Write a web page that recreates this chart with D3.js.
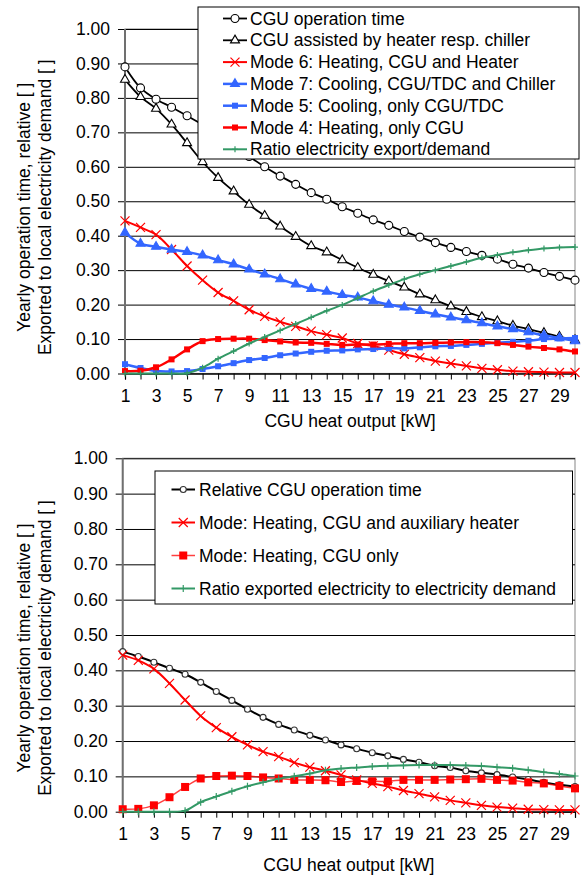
<!DOCTYPE html>
<html>
<head>
<meta charset="utf-8">
<script src="https://cdn.jsdelivr.net/npm/d3@7"></script>
<style>
html,body{margin:0;padding:0;background:#fff;}
svg{display:block;font-family:"Liberation Sans",Arial,sans-serif;}
</style>
</head>
<body>
<svg id="chart" width="581" height="876"></svg>
<script>
// ---------- DATA ----------
const heatOutput = d3.range(1, 31);             // CGU heat output [kW]
const xTickLabels = [1,3,5,7,9,11,13,15,17,19,21,23,25,27,29];
const yTickValues = [0,0.1,0.2,0.3,0.4,0.5,0.6,0.7,0.8,0.9,1.0];

// Top chart series
const cguOperationTime = [0.890,0.829,0.796,0.773,0.748,0.722,0.692,0.661,0.630,0.600,0.573,0.549,0.525,0.506,0.484,0.465,0.446,0.430,0.412,0.396,0.380,0.366,0.354,0.343,0.332,0.317,0.306,0.293,0.282,0.271];
const cguAssisted = [0.853,0.803,0.769,0.723,0.669,0.614,0.568,0.529,0.490,0.458,0.427,0.397,0.370,0.352,0.329,0.307,0.287,0.268,0.250,0.230,0.213,0.195,0.179,0.164,0.152,0.139,0.129,0.118,0.107,0.097];
const mode6 = [0.443,0.424,0.403,0.360,0.312,0.271,0.235,0.211,0.185,0.166,0.150,0.137,0.123,0.113,0.103,0.087,0.080,0.068,0.056,0.046,0.036,0.029,0.022,0.015,0.011,0.007,0.005,0.004,0.003,0.003];
const mode7 = [0.409,0.377,0.368,0.360,0.353,0.343,0.329,0.317,0.302,0.288,0.274,0.259,0.246,0.238,0.228,0.221,0.210,0.200,0.192,0.182,0.172,0.163,0.155,0.146,0.137,0.129,0.120,0.111,0.103,0.094];
const mode5 = [0.027,0.016,0.007,0.006,0.007,0.013,0.021,0.030,0.039,0.045,0.053,0.058,0.063,0.066,0.067,0.070,0.071,0.073,0.073,0.076,0.079,0.080,0.083,0.086,0.089,0.092,0.095,0.100,0.102,0.103];
const mode4 = [0.007,0.008,0.018,0.041,0.070,0.094,0.100,0.101,0.101,0.097,0.093,0.090,0.089,0.086,0.083,0.084,0.084,0.086,0.088,0.088,0.089,0.090,0.091,0.091,0.088,0.083,0.078,0.074,0.070,0.064];
const ratioExportDemand = [0,0,0,0,0.001,0.017,0.043,0.065,0.087,0.106,0.125,0.144,0.163,0.182,0.199,0.219,0.239,0.257,0.274,0.288,0.300,0.312,0.324,0.336,0.344,0.352,0.358,0.363,0.366,0.367];

// Bottom chart series
const relCguOperationTime = [0.453,0.439,0.423,0.406,0.389,0.366,0.340,0.315,0.290,0.267,0.247,0.231,0.216,0.203,0.189,0.178,0.167,0.158,0.148,0.140,0.130,0.125,0.116,0.110,0.105,0.098,0.091,0.083,0.076,0.071];
const modeHeatingAux = [0.443,0.428,0.404,0.363,0.316,0.271,0.238,0.212,0.189,0.170,0.156,0.139,0.126,0.116,0.104,0.090,0.080,0.071,0.060,0.051,0.042,0.032,0.025,0.018,0.013,0.010,0.007,0.006,0.005,0.005];
const modeHeatingOnly = [0.007,0.008,0.018,0.041,0.070,0.094,0.101,0.102,0.101,0.097,0.094,0.090,0.090,0.089,0.084,0.087,0.086,0.086,0.090,0.090,0.090,0.091,0.092,0.093,0.090,0.088,0.083,0.080,0.073,0.066];
const ratioExportedToDemand = [0,0,0,0,0.003,0.027,0.043,0.058,0.072,0.083,0.093,0.100,0.108,0.117,0.122,0.125,0.128,0.130,0.131,0.132,0.132,0.132,0.131,0.129,0.126,0.123,0.118,0.112,0.107,0.101];

// ---------- STYLES ----------
const RED = "#ff0000", BLUE = "#3366ff", GREEN = "#339966", BLACK = "#000000";
const FS = 17.5;

const topSeries = [
  {name:"CGU operation time", values:cguOperationTime, color:BLACK, width:1.8, marker:"circle", ms:4, fill:"#fff"},
  {name:"CGU assisted by heater resp. chiller", values:cguAssisted, color:BLACK, width:1.8, marker:"triangle", ms:9, fill:"#fff"},
  {name:"Mode 6: Heating, CGU and Heater", values:mode6, color:RED, width:2, marker:"x", ms:9},
  {name:"Mode 7: Cooling, CGU/TDC and Chiller", values:mode7, color:BLUE, width:2.5, marker:"triangle", ms:9, fill:BLUE},
  {name:"Mode 5: Cooling, only CGU/TDC", values:mode5, color:BLUE, width:2.5, marker:"square", ms:6, fill:BLUE},
  {name:"Mode 4: Heating, only CGU", values:mode4, color:RED, width:2.5, marker:"square", ms:6, fill:RED},
  {name:"Ratio electricity export/demand", values:ratioExportDemand, color:GREEN, width:2, marker:"plus", ms:6}
];
const bottomSeries = [
  {name:"Relative CGU operation time", values:relCguOperationTime, color:BLACK, width:2, marker:"circle", ms:3, fill:"#fff", mstroke:"#333"},
  {name:"Mode: Heating, CGU and auxiliary heater", values:modeHeatingAux, color:RED, width:2, marker:"x", ms:9},
  {name:"Mode: Heating, CGU only", values:modeHeatingOnly, color:RED, width:1.5, marker:"square", ms:8, fill:RED, lineOpacity:0.75},
  {name:"Ratio exported electricity to electricity demand", values:ratioExportedToDemand, color:GREEN, width:2, marker:"plus", ms:7}
];

const svg = d3.select("#chart");

function drawMarker(g, type, cx, cy, s, color, fill, mstroke){
  if(type==="circle"){
    g.append("circle").attr("cx",cx).attr("cy",cy).attr("r",s)
      .attr("fill",fill||"#fff").attr("stroke",mstroke||color).attr("stroke-width",1.1);
  } else if(type==="triangle"){
    const h = s*Math.sqrt(3)/2;
    g.append("path").attr("d",`M${cx},${cy-h*2/3}L${cx+s/2},${cy+h/3}L${cx-s/2},${cy+h/3}Z`)
      .attr("fill",fill||"#fff").attr("stroke",color).attr("stroke-width",1.1);
  } else if(type==="square"){
    g.append("rect").attr("x",cx-s/2).attr("y",cy-s/2).attr("width",s).attr("height",s)
      .attr("fill",fill||color).attr("stroke","none");
  } else if(type==="x"){
    const r = s/2;
    g.append("path").attr("d",`M${cx-r},${cy-r}L${cx+r},${cy+r}M${cx-r},${cy+r}L${cx+r},${cy-r}`)
      .attr("stroke",color).attr("stroke-width",1.2).attr("fill","none");
  } else if(type==="plus"){
    const r = s/2;
    g.append("path").attr("d",`M${cx-r},${cy}L${cx+r},${cy}M${cx},${cy-r}L${cx},${cy+r}`)
      .attr("stroke",color).attr("stroke-width",1.2).attr("fill","none");
  }
}

function drawChart(cfg){
  const x = d3.scaleLinear().domain([1,30]).range([cfg.left, cfg.right]);
  const y = d3.scaleLinear().domain([0,1]).range([cfg.bottom, cfg.top]);
  const g = svg.append("g");

  // plot border (gray)
  g.append("rect").attr("x",cfg.left).attr("y",cfg.top)
    .attr("width",cfg.right-cfg.left).attr("height",cfg.bottom-cfg.top)
    .attr("fill","none").attr("stroke","#999").attr("stroke-width",1.2);

  // gridlines + y ticks
  const yAxis = d3.axisLeft(y).tickValues(yTickValues).tickFormat(d3.format(".2f"))
      .tickSize(-(cfg.right-cfg.left)).tickPadding(8);
  const ya = g.append("g").attr("transform",`translate(${cfg.left},0)`).call(yAxis);
  ya.select(".domain").remove();
  ya.selectAll(".tick line").attr("stroke","#000").attr("stroke-width",1)
    .attr("x1",-7);
  ya.selectAll(".tick text").attr("font-size",FS).attr("fill","#000")
    .attr("font-family","Liberation Sans, Arial, sans-serif").attr("x",-15);

  // x axis
  const xAxis = d3.axisBottom(x).tickValues(heatOutput).tickSize(6).tickPadding(10)
      .tickFormat(d => xTickLabels.includes(d) ? d : "");
  const xa = g.append("g").attr("transform",`translate(0,${cfg.bottom})`).call(xAxis);
  xa.select(".domain").attr("stroke","#000").attr("stroke-width",1.2);
  xa.selectAll(".tick line").attr("stroke","#000");
  xa.selectAll(".tick text").attr("font-size",FS).attr("fill","#000")
    .attr("font-family","Liberation Sans, Arial, sans-serif");

  // left axis line
  g.append("line").attr("x1",cfg.left).attr("x2",cfg.left).attr("y1",cfg.top).attr("y2",cfg.bottom)
    .attr("stroke","#707070").attr("stroke-width",2);

  // axis titles
  g.append("text").attr("x",(cfg.left+cfg.right)/2).attr("y",cfg.bottom+cfg.xTitleGap)
    .attr("text-anchor","middle").attr("font-size",FS).text("CGU heat output [kW]");
  const cy = (cfg.top+cfg.bottom)/2 + cfg.titleShift;
  g.append("text").attr("transform",`translate(30,${cy}) rotate(-90)`)
    .attr("text-anchor","middle").attr("font-size",FS).text("Yearly operation time, relative [ ]");
  g.append("text").attr("transform",`translate(51,${cy}) rotate(-90)`)
    .attr("text-anchor","middle").attr("font-size",FS).text("Exported to local electricity demand [ ]");

  // series
  const line = d3.line().x((d,i)=>x(heatOutput[i])).y(d=>y(d)).curve(d3.curveCatmullRom.alpha(0.5));
  cfg.series.forEach(s=>{
    const sg = g.append("g");
    sg.append("path").attr("d",line(s.values)).attr("fill","none")
      .attr("stroke",s.color).attr("stroke-width",s.width)
      .attr("stroke-opacity",s.lineOpacity||1);
    s.values.forEach((v,i)=>drawMarker(sg,s.marker,x(heatOutput[i]),y(v),s.ms,s.color,s.fill,s.mstroke));
  });

  // legend
  const L = cfg.legend;
  const lg = g.append("g");
  lg.append("rect").attr("x",L.x).attr("y",L.y).attr("width",L.w).attr("height",L.h)
    .attr("fill","#fff").attr("stroke","#000").attr("stroke-width",1);
  cfg.series.forEach((s,i)=>{
    const yy = L.firstY + i*L.step;
    lg.append("line").attr("x1",L.lineX1).attr("x2",L.lineX2).attr("y1",yy).attr("y2",yy)
      .attr("stroke",s.color).attr("stroke-width",s.width).attr("stroke-opacity",s.lineOpacity||1);
    drawMarker(lg,s.marker,(L.lineX1+L.lineX2)/2,yy,s.ms,s.color,s.fill,s.mstroke);
    lg.append("text").attr("x",L.textX).attr("y",yy).attr("dy","0.35em")
      .attr("font-size",FS).text(s.name);
  });
}

drawChart({
  left:125, right:575, top:29, bottom:373.5, titleShift:6, xTitleGap:53,
  series: topSeries,
  legend:{x:198, y:7, w:381, h:152, firstY:18.5, step:21.8, lineX1:223, lineX2:247, textX:250}
});
drawChart({
  left:122.7, right:575, top:458.3, bottom:811.7, titleShift:13, xTitleGap:59,
  series: bottomSeries,
  legend:{x:155, y:471, w:417.5, h:133, firstY:489.5, step:33, lineX1:171.5, lineX2:195, textX:199}
});
</script>
</body>
</html>
